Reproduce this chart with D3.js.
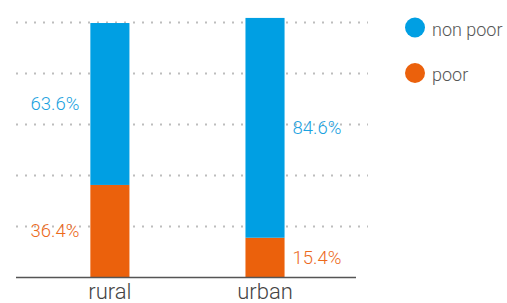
<!DOCTYPE html>
<html>
<head>
<meta charset="utf-8">
<script src="https://cdn.jsdelivr.net/npm/d3@7"></script>
<style>
  html, body { margin: 0; padding: 0; background: #fff; }
  svg { display: block; font-family: Roboto, "Helvetica Neue", Arial, sans-serif; }
</style>
</head>
<body>
<div id="chart"></div>
<script>
// categories and series
var categories = ["rural", "urban"];
var seriesNames = ["poor", "non poor"];
// bar heights as drawn (share of population, %)
var poorValues = [36.1, 15.4];
var nonPoorValues = [63.5, 86.2];
// labels printed on the chart
var poorLabels = ["36.4%", "15.4%"];
var nonPoorLabels = ["63.6%", "84.6%"];
var gridTicks = [20, 40, 60, 80, 100];

var width = 507, height = 303;
var blue = "#009fe3", orange = "#eb610c";
var blueText = "#1ba2e0", orangeText = "#ec6a1c";

var svg = d3.select("#chart").append("svg")
  .attr("width", width)
  .attr("height", height);

var x = d3.scaleBand()
  .domain(categories)
  .range([16, 356])
  .paddingInner(0.748)
  .paddingOuter(0.47)
  .align(0.51);

var y = d3.scaleLinear()
  .domain([0, 100])
  .range([277, 22]);

// dotted gridlines
svg.append("g")
  .selectAll("line")
  .data(gridTicks)
  .enter().append("line")
  .attr("x1", 16)
  .attr("x2", 368)
  .attr("y1", d => y(d) + 0.5)
  .attr("y2", d => y(d) + 0.5)
  .attr("stroke", "#bdbdbd")
  .attr("stroke-width", 2)
  .attr("stroke-dasharray", "2,7");

// stacked data
var rows = categories.map(function(c, i) {
  return { cat: c, poor: poorValues[i], nonpoor: nonPoorValues[i],
           poorLabel: poorLabels[i], nonPoorLabel: nonPoorLabels[i], side: i === 0 ? "left" : "right" };
});

var stack = d3.stack().keys(["poor", "nonpoor"]);
var layers = stack(rows);
var colors = { poor: orange, nonpoor: blue };
var textColors = { poor: orangeText, nonpoor: blueText };

layers.forEach(function(layer) {
  svg.append("g")
    .selectAll("rect")
    .data(layer)
    .enter().append("rect")
    .attr("x", d => x(d.data.cat))
    .attr("width", x.bandwidth())
    .attr("y", d => y(d[1]))
    .attr("height", d => y(d[0]) - y(d[1]))
    .attr("fill", colors[layer.key]);

  svg.append("g")
    .selectAll("text")
    .data(layer)
    .enter().append("text")
    .attr("x", d => d.data.side === "left" ? x(d.data.cat) - 11 : x(d.data.cat) + x.bandwidth() + 8)
    .attr("y", d => (y(d[0]) + y(d[1])) / 2)
    .attr("dy", "0.35em")
    .attr("text-anchor", d => d.data.side === "left" ? "end" : "start")
    .attr("font-size", "18.5px")
    .attr("font-weight", 300)
    .attr("fill", textColors[layer.key])
    .text(d => layer.key === "poor" ? d.data.poorLabel : d.data.nonPoorLabel);
});

// baseline
svg.append("line")
  .attr("x1", 16)
  .attr("x2", 356)
  .attr("y1", y(0) + 0.5)
  .attr("y2", y(0) + 0.5)
  .attr("stroke", "#555")
  .attr("stroke-width", 1.3);

// category labels
svg.append("g")
  .selectAll("text")
  .data(categories)
  .enter().append("text")
  .attr("x", d => x(d) + x.bandwidth() / 2)
  .attr("y", 299)
  .attr("text-anchor", "middle")
  .attr("font-size", "22px")
  .attr("font-weight", 300)
  .attr("fill", "#444")
  .text(d => d);

// legend
var legendItems = [
  { name: seriesNames[1], color: blue },
  { name: seriesNames[0], color: orange }
];
var legend = svg.append("g")
  .selectAll("g")
  .data(legendItems)
  .enter().append("g")
  .attr("transform", (d, i) => "translate(415," + (27.5 + i * 45.5) + ")");

legend.append("circle")
  .attr("r", 10)
  .attr("fill", d => d.color);

legend.append("text")
  .attr("x", 17)
  .attr("y", 8)
  .attr("font-size", "18px")
  .attr("font-weight", 300)
  .attr("fill", "#555")
  .text(d => d.name);
</script>
</body>
</html>
